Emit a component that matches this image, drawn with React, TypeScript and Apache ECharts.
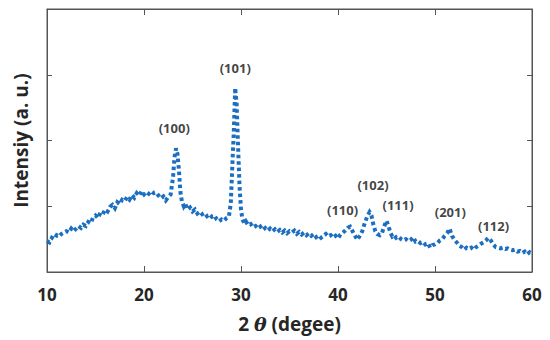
import React, { useEffect, useRef } from "react";
import * as echarts from "echarts";

const twoTheta = [
  10.0, 10.25, 10.5, 10.75, 11.0, 11.25, 11.5, 11.75, 12.0, 12.25, 12.5, 12.75, 13.0, 13.25, 13.5, 13.75,
  14.0, 14.25, 14.5, 14.75, 15.0, 15.25, 15.5, 15.75, 16.0, 16.25, 16.5, 16.75, 17.0, 17.25, 17.5, 17.75,
  18.0, 18.25, 18.5, 18.75, 19.0, 19.25, 19.5, 19.75, 20.0, 20.25, 20.5, 20.75, 21.0, 21.25, 21.5, 21.75,
  22.0, 22.25, 22.5, 22.75, 23.0, 23.15, 23.3, 23.45, 23.6, 23.75, 23.9, 24.1, 24.25, 24.5, 24.75,
  25.0, 25.25, 25.5, 25.75, 26.0, 26.25, 26.5, 26.75, 27.0, 27.25, 27.5, 27.75, 28.0, 28.25, 28.5, 28.75,
  28.95, 29.1, 29.25, 29.4, 29.55, 29.7, 29.85, 30.0, 30.15, 30.35, 30.5, 30.75, 31.0, 31.25, 31.5, 31.75,
  32.0, 32.25, 32.5, 32.75, 33.0, 33.25, 33.5, 33.75, 34.0, 34.25, 34.5, 34.75, 35.0, 35.25, 35.5, 35.75,
  36.0, 36.25, 36.5, 36.75, 37.0, 37.25, 37.5, 37.75, 38.0, 38.25, 38.5, 38.75, 39.0, 39.25, 39.5, 39.75,
  40.0, 40.25, 40.5, 40.75, 41.0, 41.25, 41.5, 41.75, 42.0, 42.25, 42.5, 42.75, 43.0, 43.25, 43.45, 43.65,
  43.85, 44.05, 44.3, 44.55, 44.75, 45.0, 45.2, 45.4, 45.6, 45.8, 46.0, 46.25, 46.5, 46.75, 47.0, 47.25,
  47.5, 47.75, 48.0, 48.25, 48.5, 48.75, 49.0, 49.25, 49.5, 49.75, 50.0, 50.25, 50.5, 50.75, 51.0, 51.25,
  51.5, 51.75, 52.0, 52.25, 52.5, 52.75, 53.0, 53.25, 53.5, 53.75, 54.0, 54.25, 54.5, 54.75, 55.0, 55.25,
  55.5, 55.75, 56.0, 56.25, 56.5, 56.75, 57.0, 57.25, 57.5, 57.75, 58.0, 58.25, 58.5, 58.75, 59.0, 59.25,
  59.5, 59.75, 60.0,
];

const intensity = [
  0.47, 0.45, 0.52, 0.5, 0.56, 0.54, 0.58, 0.6, 0.62, 0.6, 0.66, 0.62, 0.66, 0.7, 0.67, 0.72,
  0.7, 0.76, 0.74, 0.83, 0.86, 0.82, 0.9, 0.88, 0.95, 0.92, 0.99, 1.02, 0.97, 1.06, 1.03, 1.1,
  1.08, 1.14, 1.1, 1.17, 1.13, 1.2, 1.16, 1.23, 1.18, 1.22, 1.19, 1.23, 1.2, 1.21, 1.16, 1.12,
  1.15, 1.09, 1.14, 1.18, 1.45, 1.75, 1.88, 1.8, 1.55, 1.22, 1.08, 1.0, 1.04, 0.95, 0.98,
  0.92, 0.95, 0.89, 0.92, 0.88, 0.9, 0.85, 0.88, 0.84, 0.86, 0.8, 0.77, 0.8, 0.78, 0.82, 0.84,
  1.05, 1.6, 2.1, 2.8, 2.55, 1.9, 1.3, 0.95, 0.8, 0.74, 0.77, 0.71, 0.73, 0.68, 0.7, 0.66,
  0.69, 0.64, 0.67, 0.63, 0.66, 0.62, 0.65, 0.61, 0.64, 0.6, 0.63, 0.59, 0.62, 0.6, 0.63, 0.58,
  0.61, 0.57, 0.6, 0.56, 0.59, 0.55, 0.58, 0.53, 0.56, 0.52, 0.55, 0.58, 0.54, 0.56, 0.52, 0.55,
  0.51, 0.57, 0.6, 0.63, 0.67, 0.69, 0.62, 0.55, 0.49, 0.55, 0.62, 0.74, 0.84, 0.91, 0.86, 0.72,
  0.62, 0.58, 0.56, 0.6, 0.69, 0.78, 0.7, 0.6, 0.54, 0.56, 0.52, 0.54, 0.5, 0.48, 0.5, 0.47,
  0.49, 0.53, 0.46, 0.47, 0.44, 0.46, 0.42, 0.44, 0.37, 0.41, 0.42, 0.44, 0.48, 0.5, 0.55, 0.59,
  0.66, 0.55, 0.49, 0.45, 0.4, 0.38, 0.34, 0.37, 0.35, 0.37, 0.34, 0.38, 0.4, 0.43, 0.45, 0.48,
  0.52, 0.48, 0.42, 0.38, 0.37, 0.36, 0.37, 0.35, 0.36, 0.34, 0.33, 0.34, 0.31, 0.32, 0.29, 0.31,
  0.27, 0.3, 0.27,
];

const peakLabels = ["(100)", "(101)", "(110)", "(102)", "(111)", "(201)", "(112)"];
const peakLabelX = [23.12, 29.41, 40.47, 43.61, 46.19, 51.58, 56.04];
const peakLabelY = [2.19, 3.1, 0.95, 1.33, 1.02, 0.91, 0.7];

const xTicks = [10, 20, 30, 40, 50, 60];

const FONT = "'Open Sans', 'Noto Sans', sans-serif";
const AXIS_COLOR = "#555555";

export default function App() {
  const ref = useRef<HTMLDivElement>(null);

  useEffect(() => {
    if (!ref.current) return;
    const chart = echarts.init(ref.current, undefined, { renderer: "svg" });
    const lineData = twoTheta.map((x, i) => [x, intensity[i]]);
    const labelData = peakLabels.map((n, i) => ({ name: n, value: [peakLabelX[i], peakLabelY[i]] }));

    const baseX = {
      type: "value" as const,
      min: xTicks[0],
      max: xTicks[xTicks.length - 1],
      interval: 10,
      splitLine: { show: false },
      axisLine: { show: true, onZero: false, lineStyle: { color: AXIS_COLOR, width: 1 } },
      axisTick: { show: true, inside: true, length: 6, lineStyle: { color: AXIS_COLOR } },
    };
    const baseY = {
      type: "value" as const,
      min: 0,
      max: 4,
      interval: 1,
      splitLine: { show: false },
      axisLabel: { show: false },
      axisLine: { show: true, onZero: false, lineStyle: { color: AXIS_COLOR, width: 1 } },
      axisTick: { show: true, inside: true, length: 5, lineStyle: { color: AXIS_COLOR } },
    };

    chart.setOption({
      animation: false,
      grid: {
        left: 47,
        right: 18,
        top: 9,
        bottom: 68,
        containLabel: false,
        show: true,
        borderColor: AXIS_COLOR,
        borderWidth: 1,
        backgroundColor: "transparent",
      },
      xAxis: [
        {
          ...baseX,
          position: "bottom",
          name: "2 {i|θ} (degee)",
          nameLocation: "middle",
          nameGap: 42,
          nameTextStyle: {
            fontFamily: FONT,
            fontWeight: "bold",
            fontSize: 19,
            color: "#262626",
            rich: {
              i: { fontFamily: "'DejaVu Serif', serif", fontStyle: "italic", fontSize: 19, color: "#262626" },
            },
          },
          axisLabel: {
            show: true,
            margin: 14,
            fontFamily: FONT,
            fontWeight: "bold",
            fontSize: 17,
            color: "#262626",
          },
        },
        { ...baseX, position: "top", axisLabel: { show: false } },
      ],
      yAxis: [
        {
          ...baseY,
          position: "left",
          name: "Intensiy (a. u.)",
          nameLocation: "middle",
          nameGap: 17,
          nameTextStyle: { fontFamily: FONT, fontWeight: "bold", fontSize: 19, color: "#262626" },
        },
        { ...baseY, position: "right" },
      ],
      series: [
        {
          type: "line",
          data: lineData,
          showSymbol: false,
          symbol: "none",
          lineStyle: { color: "#1c6fc0", width: 4, type: [3.5, 3], cap: "butt", join: "miter" },
          silent: true,
        },
        {
          type: "scatter",
          data: labelData,
          symbolSize: 1,
          itemStyle: { color: "rgba(0,0,0,0)" },
          label: {
            show: true,
            position: "inside",
            formatter: (p: any) => p.name,
            fontFamily: FONT,
            fontWeight: "bold",
            fontSize: 13,
            color: "#111111",
          },
          silent: true,
        },
      ],
    });
    return () => chart.dispose();
  }, []);

  return (
    <div
      ref={ref}
      style={{ position: "fixed", left: 0, top: 0, width: 550, height: 340, background: "#fff" }}
    />
  );
}
